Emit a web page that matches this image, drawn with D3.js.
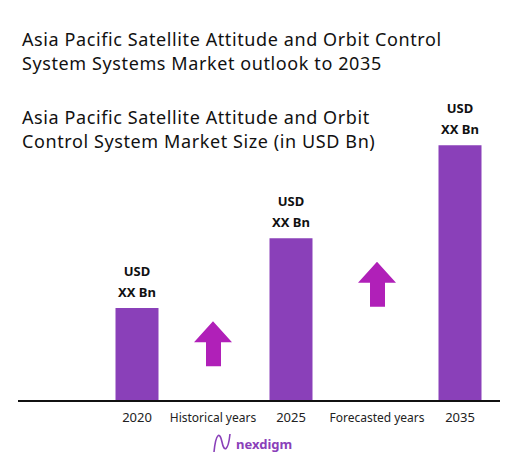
<!DOCTYPE html>
<meta charset="utf-8">
<script src="https://d3js.org/d3.v7.min.js"></script>
<style>body{margin:0;background:#fff}</style>
<div id="chart"></div>
<script>
// data
var categories = ["2020", "Historical years", "2025", "Forecasted years", "2035"];
var years = ["2020", "2025", "2035"];
var values = [1.0, 1.75, 2.75];
var barLabels = ["USD", "XX Bn"];
var arrowCats = ["Historical years", "Forecasted years"];
var arrowLevels = [0.62, 1.26];

var W = 528, H = 462, base = 401;
var svg = d3.select("#chart").append("svg").attr("width", W).attr("height", H)
  .style("font-family", "'Noto Sans', sans-serif");

var x = d3.scaleOrdinal().domain(categories).range([137, 213, 291, 377, 460]);
var y = d3.scaleLinear().domain([0, 3]).range([base, 122]);

// titles
var t1 = ["Asia Pacific Satellite Attitude and Orbit Control", "System Systems Market outlook to 2035"];
var t2 = ["Asia Pacific Satellite Attitude and Orbit", "Control System Market Size (in USD Bn)"];
svg.selectAll(".t1").data(t1).enter().append("text")
  .attr("x", 22).attr("y", function(d, i){ return 46 + i * 24; })
  .attr("font-size", 18).attr("letter-spacing", 0.6).attr("fill", "#111").text(function(d){ return d; });
svg.selectAll(".t2").data(t2).enter().append("text")
  .attr("x", 22).attr("y", function(d, i){ return 124 + i * 24; })
  .attr("font-size", 18).attr("letter-spacing", 0.6).attr("fill", "#111").text(function(d){ return d; });

// bars
var bw = 43;
svg.selectAll("rect.bar").data(years).enter().append("rect")
  .attr("x", function(d){ return x(d) - bw / 2; })
  .attr("y", function(d, i){ return y(values[i]); })
  .attr("width", bw)
  .attr("height", function(d, i){ return base - y(values[i]); })
  .attr("fill", "#8a40b9");

years.forEach(function(d, i){
  svg.selectAll(null).data(barLabels).enter().append("text")
    .attr("x", x(d)).attr("y", function(l, j){ return y(values[i]) - 32 + j * 21; })
    .attr("text-anchor", "middle").attr("font-size", 13).attr("font-weight", "bold")
    .attr("fill", "#111").text(function(l){ return l; });
});

// arrows
arrowCats.forEach(function(c, i){
  var cx = x(c), top = y(arrowLevels[i]) - 22;
  var pts = [[cx, top], [cx + 19, top + 21], [cx + 8, top + 21], [cx + 8, top + 45],
             [cx - 7, top + 45], [cx - 7, top + 21], [cx - 19, top + 21]];
  svg.append("polygon").attr("points", pts.map(function(p){ return p.join(","); }).join(" "))
    .attr("fill", "#b020b8");
});

// axis
svg.append("line").attr("x1", 18).attr("x2", 500).attr("y1", base).attr("y2", base)
  .attr("stroke", "#111").attr("stroke-width", 2);
svg.selectAll("text.cat").data(categories).enter().append("text")
  .attr("x", function(d){ return x(d); }).attr("y", 422)
  .attr("text-anchor", "middle")
  .attr("font-size", function(d){ return d.length > 4 ? 12 : 13; })
  .attr("fill", "#222").text(function(d){ return d; });

// logo
svg.append("path").attr("d", "M214,452 C216,432 220,432 222,442 C224,452 228,452 230,434")
  .attr("fill", "none").attr("stroke", "#8a40b9").attr("stroke-width", 1.6);
svg.append("text").attr("x", 236).attr("y", 449).attr("font-size", 13)
  .attr("font-weight", "bold").attr("fill", "#8a40b9").text("nexdigm");
</script>
